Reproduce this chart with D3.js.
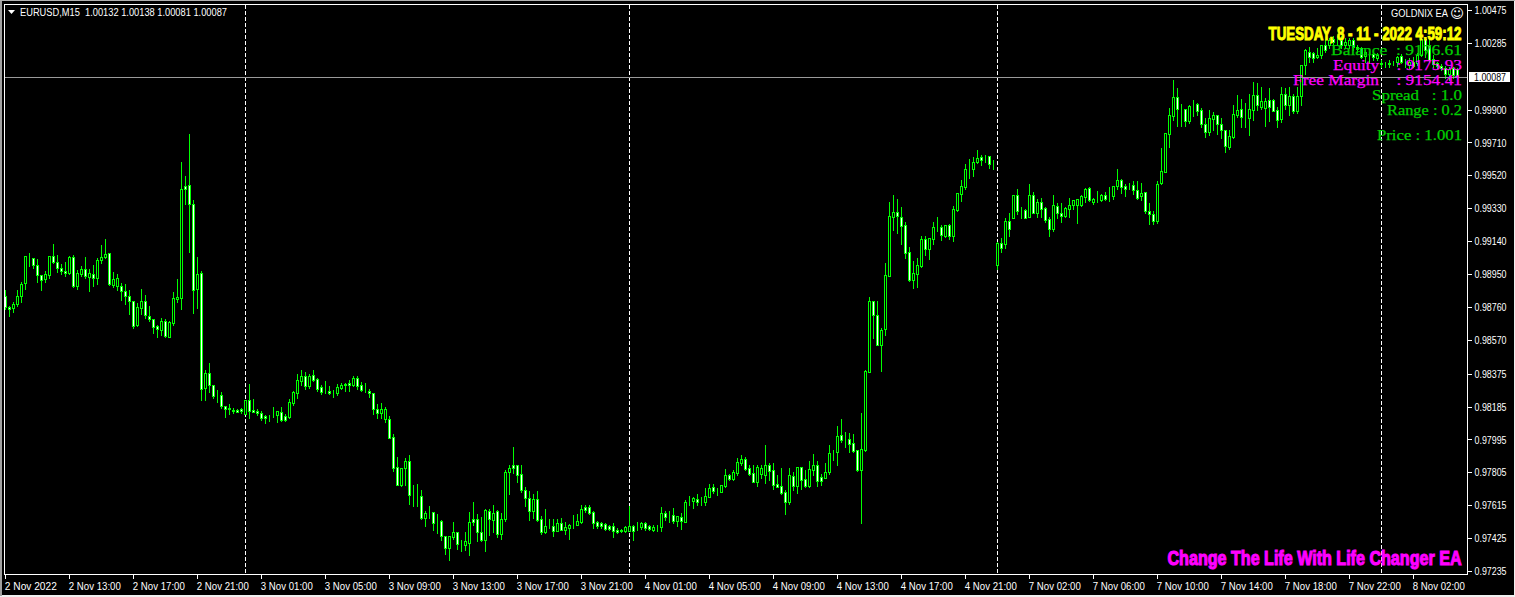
<!DOCTYPE html>
<html><head><meta charset="utf-8">
<script src="https://cdn.jsdelivr.net/npm/d3@7/dist/d3.min.js"></script>
<style>
html,body{margin:0;padding:0;background:#f0f0f0;overflow:hidden}
svg{display:block}
text{white-space:pre}
</style></head><body><svg id="c" width="1515" height="597"></svg>
<script>
// Candle values, in points (1 point = 0.00001)
const opens=[
98825,98760,98752,98775,98821,98896,99047,99045,99000,98943,98920,98943,99052,99018,98983,98970,98954,99047,98879,98952,98977,98935,98952,98925,99029,99049,99070,98887,98879,98879,98850,98825,98796,98658,98756,98792,98710,98692,98648,98629,98677,98589,98669,98804,98814,99457,99462,99353,98862,98954,98294,98377,98311,98250,98250,98186,98175,98167,98165,98169,98144,98221,98163,98157,
98146,98131,98127,98133,98138,98152,98129,98125,98208,98265,98333,98360,98306,98365,98342,98296,98271,98273,98269,98265,98292,98313,98319,98310,98348,98308,98277,98273,98261,98173,98150,98115,98111,98007,97838,97732,97828,97869,97672,97669,97667,97543,97572,97574,97520,97522,97440,97370,97434,97459,97391,97388,97399,97534,97534,97463,97416,97580,97530,97580,97451,97538,97805,97846,97846,97794,97701,97655,97584,97649,97534,97463,97503,97497,97468,
97511,97469,97482,97505,97503,97517,97603,97603,97574,97519,97511,97509,97496,97494,97472,97471,97467,97467,97496,97496,97488,97511,97494,97472,97494,97490,97569,97555,97557,97524,97546,97519,97636,97640,97650,97642,97636,97663,97719,97700,97694,97727,97788,97767,97802,97857,97883,97829,97800,97750,97796,97790,97846,97819,97738,97727,97692,97634,97782,97727,97834,97767,97727,97819,97846,97777,97775,97806,97921,97923,98019,97996,97996,97973,97934,97819,
97935,98387,98793,98711,98543,98630,98941,99282,99307,99278,99232,99076,98918,98953,98999,99151,99096,99155,99219,99221,99169,99232,99167,99321,99415,99455,99552,99554,99598,99625,99625,99631,99592,99005,99128,99121,99255,99276,99405,99317,99319,99282,99405,99305,99365,99330,99267,99213,99342,99301,99288,99325,99346,99348,99346,99394,99446,99369,99382,99375,99405,99398,99398,99457,99492,99457,99461,99463,99434,99398,99423,99313,99296,99259,99473,
99542,99761,99863,99971,99900,99902,99832,99921,99930,99896,99819,99773,99848,99867,99815,99780,99686,99744,99871,99902,99855,99851,99900,99982,99917,99907,99954,99954,99896,99848,99988,99925,99977,99890,
99977,100156,100233,100225,100206,100214,100273,100272,100306,100299,100302,100270,100273,100302,100260,100254,100212,100220,100220,100197,100162,100164,100171,100171,100177,100212,100168,100158,100173,100168,100216,100308,100273,100191,100168,100154,100139,100106,100139,100132];
const highs=[
98858,98767,98787,98858,98902,99052,99070,99045,99035,98943,98966,99052,99122,99058,99006,99018,99052,99058,98973,98997,99049,98977,99000,99041,99116,99151,99070,98960,98948,98896,98891,98856,98796,98783,98862,98827,98764,98692,98654,98694,98689,98677,98845,98920,99597,99514,99757,99376,99047,98966,98394,98434,98311,98279,98267,98186,98198,98175,98169,98175,98221,98313,98227,98169,
98158,98134,98134,98183,98158,98183,98140,98227,98273,98373,98396,98383,98373,98396,98348,98310,98331,98302,98279,98313,98319,98319,98338,98360,98360,98325,98321,98287,98261,98198,98204,98181,98129,98025,97892,97828,97886,97903,97730,97736,97701,97580,97611,97574,97563,97528,97440,97436,97517,97463,97413,97459,97574,97632,97565,97545,97592,97592,97615,97586,97568,97817,97846,97950,97846,97846,97719,97697,97678,97697,97551,97594,97536,97534,97536,
97540,97517,97507,97557,97563,97615,97615,97615,97580,97524,97519,97511,97501,97511,97484,97478,97494,97611,97501,97519,97519,97519,97501,97501,97501,97605,97580,97580,97600,97551,97569,97644,97667,97663,97680,97663,97715,97738,97738,97715,97730,97825,97794,97819,97888,97906,97894,97848,97848,97848,97848,97963,97857,97857,97790,97829,97703,97829,97806,97834,97834,97819,97871,97909,97871,97796,97857,97963,97934,98073,98114,98038,98033,98027,97934,98148,
98397,98816,98793,98793,98637,99013,99367,99405,99382,99336,99250,99105,99024,99044,99169,99169,99157,99250,99278,99232,99232,99240,99344,99417,99492,99586,99615,99625,99665,99638,99636,99631,99608,99134,99157,99273,99301,99405,99440,99336,99327,99469,99423,99382,99388,99336,99278,99405,99359,99359,99336,99388,99377,99382,99405,99446,99452,99388,99429,99411,99423,99452,99457,99556,99498,99469,99475,99486,99486,99475,99423,99359,99313,99486,99677,
99763,99907,100071,100025,99932,99902,99925,99954,99936,99907,99850,99896,99884,99867,99850,99780,99780,99925,99982,99959,99936,99988,100058,100052,100033,99965,100025,99959,99913,100033,100023,100033,99988,100033,
100156,100248,100264,100231,100254,100272,100302,100312,100322,100322,100322,100312,100312,100312,100273,100262,100245,100235,100231,100225,100187,100173,100187,100181,100212,100220,100193,100197,100206,100225,100312,100312,100308,100216,100177,100162,100154,100148,100148,100138];
const lows=[
98748,98710,98729,98767,98791,98864,98998,98987,98904,98858,98906,98929,99012,98964,98952,98941,98948,98877,98866,98941,98929,98854,98883,98895,99016,99043,98887,98877,98860,98800,98779,98719,98639,98652,98717,98696,98681,98612,98587,98598,98589,98587,98656,98791,98748,99355,99077,98725,98754,98225,98225,98269,98234,98211,98178,98126,98144,98150,98153,98150,98142,98121,98153,98136,
98107,98090,98102,98125,98096,98104,98102,98119,98196,98235,98310,98288,98292,98333,98277,98258,98261,98256,98242,98252,98285,98275,98277,98304,98288,98275,98267,98242,98142,98121,98121,98096,98005,97815,97734,97726,97732,97622,97611,97611,97538,97495,97542,97472,97457,97414,97334,97299,97422,97363,97353,97355,97330,97501,97409,97409,97353,97443,97463,97434,97420,97524,97680,97803,97749,97694,97611,97530,97542,97524,97449,97455,97484,97438,97467,
97469,97449,97422,97486,97501,97511,97576,97563,97484,97484,97484,97472,97472,97432,97455,97461,97461,97467,97415,97472,97478,97472,97472,97467,97467,97467,97530,97519,97513,97496,97478,97519,97617,97600,97617,97617,97617,97663,97684,97675,97692,97721,97761,97761,97788,97848,97821,97790,97750,97727,97773,97744,97763,97709,97721,97680,97565,97623,97703,97686,97709,97721,97721,97790,97727,97732,97773,97796,97877,97848,97981,97952,97923,97921,97813,97513,
97929,98387,98580,98543,98391,98599,98941,99205,99188,99124,99044,98911,98870,98876,98992,99061,99038,99124,99199,99147,99163,99153,99142,99315,99373,99442,99506,99517,99592,99581,99598,99563,99558,98980,99078,99101,99171,99275,99294,99275,99273,99278,99301,99280,99278,99253,99171,99199,99275,99251,99282,99278,99325,99244,99344,99367,99371,99353,99365,99371,99379,99371,99384,99444,99417,99402,99444,99411,99384,99377,99301,99240,99240,99244,99471,
99540,99682,99840,99803,99807,99805,99821,99861,99867,99798,99744,99753,99780,99761,99734,99657,99673,99738,99855,99798,99798,99755,99840,99898,99905,99805,99834,99890,99802,99830,99905,99869,99882,99878,
99925,100106,100177,100175,100197,100197,100231,100254,100264,100273,100254,100254,100254,100245,100235,100197,100177,100177,100187,100189,100148,100148,100148,100158,100154,100168,100148,100139,100148,100158,100212,100206,100173,100148,100139,100129,100081,100071,100085,100081];
const closes=[
98760,98750,98775,98825,98891,99052,99047,99000,98943,98914,98948,99052,99018,98983,98968,98954,99047,98879,98954,98977,98941,98954,98925,99029,99047,99064,98895,98920,98925,98854,98825,98794,98652,98758,98792,98716,98692,98646,98635,98677,98594,98671,98810,98816,99439,99443,99353,98856,98948,98288,98377,98311,98248,98250,98186,98169,98169,98159,98155,98159,98221,98161,98155,98150,
98119,98121,98127,98133,98158,98107,98107,98209,98267,98337,98360,98306,98362,98340,98288,98271,98271,98265,98269,98296,98308,98308,98308,98348,98306,98283,98277,98261,98173,98150,98169,98169,98005,97832,97734,97828,97869,97672,97672,97669,97543,97568,97572,97511,97520,97440,97370,97436,97459,97393,97391,97407,97520,97520,97463,97416,97586,97538,97568,97451,97534,97805,97828,97832,97792,97705,97659,97584,97649,97530,97463,97497,97503,97468,97511,
97469,97488,97501,97505,97523,97592,97588,97571,97515,97496,97496,97480,97478,97467,97463,97467,97488,97494,97467,97496,97511,97484,97480,97490,97494,97569,97548,97555,97524,97551,97524,97632,97636,97657,97634,97642,97669,97713,97698,97700,97730,97788,97769,97806,97865,97883,97825,97796,97750,97834,97829,97846,97813,97732,97721,97686,97634,97788,97727,97834,97763,97727,97823,97846,97755,97755,97806,97915,97921,98013,97992,97996,97969,97929,97819,97942,
98391,98793,98711,98543,98626,98943,99284,99307,99286,99230,99074,98918,98955,99001,99151,99096,99157,99221,99219,99173,99232,99167,99325,99417,99457,99556,99552,99596,99619,99611,99625,99588,99592,99128,99103,99255,99211,99405,99313,99317,99276,99405,99305,99365,99323,99265,99213,99348,99300,99288,99330,99348,99377,99382,99400,99440,99375,99382,99382,99405,99386,99398,99457,99492,99452,99444,99461,99438,99392,99417,99313,99296,99259,99469,99544,
99763,99867,99971,99905,99900,99836,99919,99921,99894,99815,99773,99850,99867,99815,99780,99688,99746,99873,99896,99855,99855,99902,99982,99925,99948,99948,99913,99894,99842,99988,99925,99977,99890,99977,
100156,100243,100202,100200,100216,100272,100245,100302,100293,100299,100273,100293,100302,100264,100250,100206,100235,100220,100202,100216,100171,100164,100162,100171,100206,100177,100168,100173,100154,100216,100308,100245,100187,100162,100154,100139,100106,100135,100100,100087];

const priceTicks=[1.00475,1.00285,0.99900,0.99710,0.99520,0.99330,0.99140,0.98950,0.98760,0.98570,0.98375,0.98185,0.97995,0.97805,0.97615,0.97425,0.97235];
const timeLabels=["2 Nov 2022","2 Nov 13:00","2 Nov 17:00","2 Nov 21:00","3 Nov 01:00","3 Nov 05:00","3 Nov 09:00","3 Nov 13:00","3 Nov 17:00","3 Nov 21:00","4 Nov 01:00","4 Nov 05:00","4 Nov 09:00","4 Nov 13:00","4 Nov 17:00","4 Nov 21:00","7 Nov 02:00","7 Nov 06:00","7 Nov 10:00","7 Nov 14:00","7 Nov 18:00","7 Nov 22:00","8 Nov 02:00"];
const barsPerLabel=16;
const separatorBars=[60,156,248,344];
const bidPoints=100087;

const W=1515,H=597,L=4.5,R=1467.5,T=4.5,B=574.5;
const svg=d3.select("#c");
const x=d3.scaleLinear().domain([0,opens.length-1]).range([5.33,1457.33]);
const y=d3.scaleLinear().domain([0.97235,1.00475]).range([571,10]);
const px=i=>Math.floor(x(i))+0.5;
const py=p=>Math.round(y(p/1e5))+0.5;
const tickFont="'Liberation Sans',Arial,sans-serif";

svg.append("rect").attr("width",W).attr("height",H).attr("fill","#f0f0f0");
svg.append("rect").attr("x",0).attr("y",0).attr("width",2).attr("height",596).attr("fill","#a0a0a0");
svg.append("rect").attr("x",0).attr("y",0).attr("width",W).attr("height",1).attr("fill","#b0b0b0");
svg.append("rect").attr("x",2).attr("y",1).attr("width",1512).attr("height",594).attr("fill","#000");

// period separators
svg.append("g").selectAll("line").data(separatorBars).join("line")
 .attr("x1",d=>px(d)).attr("x2",d=>px(d)).attr("y1",T).attr("y2",B)
 .attr("stroke","#fff").attr("stroke-dasharray","4,2").attr("shape-rendering","crispEdges");

// candles
const idx=d3.range(opens.length);
const g=svg.append("g").attr("shape-rendering","crispEdges");
g.selectAll("line.w").data(idx).join("line").attr("class","w")
 .attr("x1",px).attr("x2",px).attr("y1",i=>py(highs[i])-.5).attr("y2",i=>py(lows[i])+.5)
 .attr("stroke","#00ff00");
g.selectAll("rect").data(idx).join("rect")
 .attr("x",i=>px(i)-1).attr("width",2)
 .attr("y",i=>py(Math.max(opens[i],closes[i])))
 .attr("height",i=>py(Math.min(opens[i],closes[i]))-py(Math.max(opens[i],closes[i])))
 .attr("fill",i=>closes[i]>opens[i]?"#000":"#fff")
 .attr("stroke","#00ff00");

// bid line
svg.append("line").attr("x1",L).attr("x2",R).attr("y1",py(bidPoints)).attr("y2",py(bidPoints))
 .attr("stroke","#9a9a9a").attr("shape-rendering","crispEdges");

// frame
svg.append("path").attr("d",`M${L},${T}H${R}V${B}H${L}Z`).attr("fill","none").attr("stroke","#fff").attr("shape-rendering","crispEdges");

// axes
const ay=d3.axisRight(y).tickValues(priceTicks).tickFormat(d3.format(".5f")).tickSize(4).tickPadding(3);
const gy=svg.append("g").attr("transform",`translate(${R},0)`).call(ay);
const ax=d3.axisBottom(x).tickValues(timeLabels.map((_,k)=>k*barsPerLabel)).tickFormat(d=>timeLabels[d/barsPerLabel]).tickSize(4).tickPadding(3);
const gx=svg.append("g").attr("transform",`translate(0,${B})`).call(ax);
[gy,gx].forEach(a=>{a.select(".domain").remove();
 a.selectAll("line").attr("stroke","#fff").attr("shape-rendering","crispEdges");
 a.selectAll("text").attr("fill","#fff").attr("font-family",tickFont).attr("font-size",10);});
gx.selectAll("text").attr("text-anchor","start").attr("dx",-1).attr("textLength",52).attr("lengthAdjust","spacingAndGlyphs").attr("y",8);
gy.selectAll("text").attr("textLength",32).attr("lengthAdjust","spacingAndGlyphs").attr("dy","0.36em");

// bid label
svg.append("rect").attr("x",1469).attr("y",72).attr("width",41).attr("height",10).attr("fill","#fff");
svg.append("text").attr("x",1474).attr("y",y(bidPoints/1e5)+4).attr("font-family",tickFont).attr("font-size",10).attr("fill","#000").attr("textLength",32).attr("lengthAdjust","spacingAndGlyphs").text(d3.format(".5f")(bidPoints/1e5));

// header
svg.append("path").attr("d","M8,10H15L11.5,14Z").attr("fill","#fff");
svg.append("text").attr("x",20).attr("y",16).attr("font-family",tickFont).attr("font-size",10).attr("fill","#fff").attr("textLength",207).attr("lengthAdjust","spacingAndGlyphs").text("EURUSD,M15  1.00132 1.00138 1.00081 1.00087");
svg.append("text").attr("x",1391).attr("y",17).attr("font-family",tickFont).attr("font-size",10).attr("fill","#fff").attr("textLength",57).attr("lengthAdjust","spacingAndGlyphs").text("GOLDNIX EA");
svg.append("text").attr("x",1450).attr("y",18).attr("font-family","'DejaVu Sans'").attr("font-size",13.5).attr("fill","#fff").text("\u263A");

// EA overlay
const serif="'Liberation Serif','DejaVu Serif',serif";
const info=[
 {t:"Balance  : 9176.61",x0:1331,y:55,c:"#00d000"},
 {t:"Equity    : 9175.93",x0:1333,y:70,c:"#ff00ff"},
 {t:"Free Margin    : 9154.41",x0:1293,y:85,c:"#ff00ff"},
 {t:"Spread   : 1.0",x0:1372,y:100,c:"#00d000"},
 {t:"Range : 0.2",x0:1387,y:115,c:"#00d000"},
 {t:"Price : 1.001",x0:1377,y:140,c:"#00d000"}];
svg.append("g").selectAll("text").data(info).join("text")
 .attr("x",d=>d.x0).attr("y",d=>d.y).attr("fill",d=>d.c).attr("stroke",d=>d.c).attr("stroke-width",.25)
 .attr("font-family",serif).attr("font-size",15.5)
 .attr("textLength",d=>1462-d.x0).attr("lengthAdjust","spacingAndGlyphs").text(d=>d.t);
const heavy="'Liberation Sans Narrow','Liberation Sans',Arial,sans-serif";
svg.append("text").attr("x",1268.5).attr("y",40).attr("font-family",heavy).attr("font-weight",700).attr("font-size",18)
 .attr("fill","#ffff00").attr("stroke","#ffff00").attr("stroke-width",1).attr("textLength",193).attr("lengthAdjust","spacingAndGlyphs").text("TUESDAY, 8 - 11 - 2022 4:59:12");
svg.append("text").attr("x",1167.5).attr("y",565).attr("font-family",heavy).attr("font-weight",700).attr("font-size",20)
 .attr("fill","#ff00ff").attr("stroke","#ff00ff").attr("stroke-width",1.1).attr("textLength",294).attr("lengthAdjust","spacingAndGlyphs").text("Change The Life With Life Changer EA");
</script></body></html>
